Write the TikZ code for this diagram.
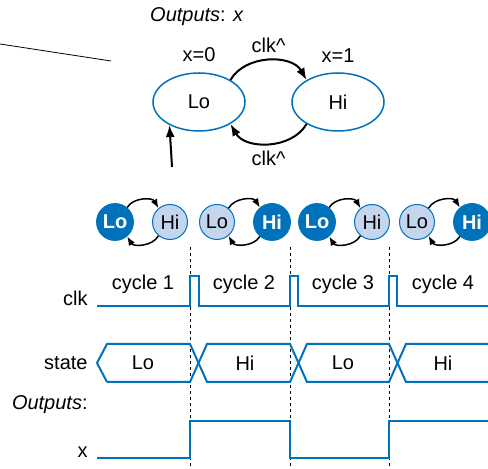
\documentclass[tikz,border=0pt]{standalone}
\usepackage{fontspec}
\setmainfont{Liberation Sans}
\usetikzlibrary{shapes.geometric,arrows.meta}
\definecolor{wireblue}{RGB}{0,114,188}
\definecolor{paleblue}{RGB}{197,213,238}
\tikzset{
statenodev1/.style={ellipse, draw=wireblue,fill=white,line width=0.75pt, inner sep=0pt, minimum width= 46pt, minimum height = 29pt},
activestate/.style={circle, draw=wireblue,fill=wireblue,text=white,font=\bfseries, inner sep=0pt, minimum size= 18.5pt},
idlestate/.style={circle, draw=wireblue,fill=paleblue,line width=0.5pt, inner sep=0pt, minimum size= 17.5pt},
transarrow/.style={-{Latex[length=6pt,width=4.5pt]}, black, line width=1pt},
smallarrow/.style={-{Latex[length=4.5pt,width=3.5pt]}, black, line width=0.75pt},
wave/.style={draw=wireblue, line width=1pt, line join=miter},
siglabel/.style={anchor=east, inner sep=0pt},
}

\begin{document}
\begin{tikzpicture}[x=0.5pt,y=0.5pt,font=\fontsize{10}{12}\selectfont]
        \useasboundingbox (0,0) rectangle (488,-469);
        % state diagram
        \node at (197,-17) (outtitle) {\textit{Outputs}: \textit{x}};
        \coordinate (cutA) at (0,-44);
        \coordinate (cutB) at (111,-61);
        \draw[black,line width=0.4pt] (cutA) -- (cutB);
        \node[statenodev1] at (199,-102) (lo) [label = {[label distance=1.5pt]above:x=0}] {Lo};
        \node[statenodev1] at (338,-102) (hi) [label = {[label distance=1.5pt]above:x=1}] {Hi};
        \draw[transarrow] (lo.35) to[bend left=60] node[above]{clk\textasciicircum} (hi.145);
        \draw[transarrow] (hi.215) to[bend left=60] node[below]{clk\textasciicircum} (lo.325);
        \coordinate (reset) at (172,-167);
        \draw[transarrow] (reset) -- (lo.218);
        % small state pictures
        \foreach \i/\x/\lostyle/\histyle in {1/115/activestate/idlestate, 2/217/idlestate/activestate, 3/317/activestate/idlestate, 4/417/idlestate/activestate}{
        \node[\lostyle] at (\x,-222) (lo\i) {Lo};
        \node[\histyle] at (\x+55,-222) (hi\i) {Hi};
        \draw[smallarrow] (lo\i.50) to[bend left=60] (hi\i.130);
        \draw[smallarrow] (hi\i.230) to[bend left=60] (lo\i.310);
        }
        % timing diagram
        \foreach \t in {190,290,389}
        \draw[black,line width=0.4pt,dash pattern=on 1.5pt off 1.5pt] (\t,-247) -- (\t,-469);
        \node[siglabel] at (88,-298) (clklabel) {clk};
        \node[siglabel] at (88,-363) (statelabel) {state};
        \node[siglabel] at (88,-405) (outlabel) {\textit{Outputs}:};
        \node[siglabel] at (88,-452) (xlabel) {x};
        \draw[wave] (97,-306) -- (190,-306) -- (190,-276) -- (199,-276) -- (199,-306) -- (290,-306) -- (290,-276) -- (298,-276) -- (298,-306) -- (389,-306) -- (389,-276) -- (397,-276) -- (397,-306) -- (488,-306);
        \foreach \i/\x in {1/143,2/244,3/343,4/443}
        \node at (\x,-284) (cycle\i) {cycle \i};
        \draw[wave] (107,-382) -- (97,-363) -- (107,-344) -- (190,-344) -- (207,-382) -- (290,-382) -- (307,-344) -- (389,-344) -- (406,-382) -- (488,-382);
        \draw[wave] (107,-382) -- (190,-382) -- (207,-344) -- (290,-344) -- (307,-382) -- (389,-382) -- (406,-344) -- (488,-344);
        \foreach \i/\x/\s in {1/143/Lo,2/245/Hi,3/343/Lo,4/443/Hi}
        \node at (\x,-363) (bus\i) {\s};
        \draw[wave] (97,-458) -- (190,-458) -- (190,-421) -- (290,-421) -- (290,-458) -- (389,-458) -- (389,-421) -- (488,-421);
\end{tikzpicture}
\end{document}
